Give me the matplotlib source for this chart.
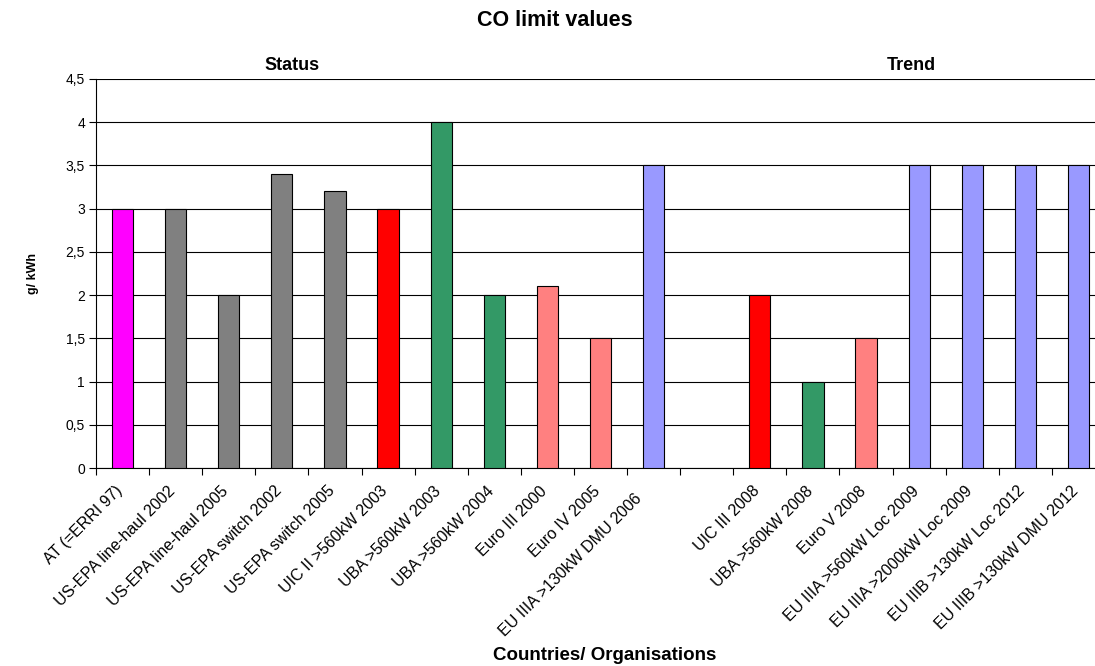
import numpy as np
import matplotlib
matplotlib.use("Agg")
import matplotlib.pyplot as plt
from matplotlib.ticker import MultipleLocator, FuncFormatter
import matplotlib.transforms as mtransforms

plt.rcParams['font.family'] = ['Liberation Sans', 'DejaVu Sans']

labels = [
    "AT (=ERRI 97)", "US-EPA line-haul 2002", "US-EPA line-haul 2005",
    "US-EPA switch 2002", "US-EPA switch 2005", "UIC II >560kW 2003",
    "UBA >560kW 2003", "UBA >560kW 2004", "Euro III 2000", "Euro IV 2005",
    "EU IIIA >130kW DMU 2006", "",
    "UIC III 2008", "UBA >560kW 2008", "Euro V 2008",
    "EU IIIA >560kW Loc 2009", "EU IIIA >2000kW Loc 2009",
    "EU IIIB >130kW Loc 2012", "EU IIIB >130kW DMU 2012",
]
co_values = [3, 3, 2, 3.4, 3.2, 3, 4, 2, 2.1, 1.5, 3.5, np.nan,
             2, 1, 1.5, 3.5, 3.5, 3.5, 3.5]
bar_colors = ["#FF00FF", "#808080", "#808080", "#808080", "#808080", "#FF0000",
              "#339966", "#339966", "#FF8080", "#FF8080", "#9999FF", "none",
              "#FF0000", "#339966", "#FF8080", "#9999FF", "#9999FF", "#9999FF",
              "#9999FF"]

fig = plt.figure(figsize=(10.95, 6.66), dpi=100)
ax = fig.add_axes([96 / 1095, 1 - 468 / 666, 1009 / 1095, 389 / 666])

x = np.arange(len(labels))
ax.bar(x, co_values, width=0.4, color=bar_colors, edgecolor="black",
       linewidth=0.8, zorder=3)

ax.set_xlim(-0.5, len(labels) - 0.5)
ax.set_ylim(0, 4.5)
ax.yaxis.set_major_locator(MultipleLocator(0.5))
ax.yaxis.set_major_formatter(FuncFormatter(
    lambda v, p: ("%g" % v).replace(".", ",")))
ax.grid(axis="y", color="black", linewidth=0.8, zorder=0)

# category labels at centres, tick marks on the boundaries
ax.set_xticks(x)
ax.set_xticklabels(labels, rotation=45, ha="right", va="top",
                   rotation_mode="anchor", fontsize=11.5)
ax.tick_params(axis="x", which="major", length=0, pad=11)
ax.set_xticks(np.arange(-0.5, len(labels), 1), minor=True)
ax.tick_params(axis="x", which="minor", length=5, width=0.8)
ax.tick_params(axis="y", length=5, width=0.8, labelsize=10, pad=3)
for i, lbl in enumerate(ax.get_xticklabels()):
    dx, dy = -8, 0
    if i == 10:  # long label sits a little lower
        dx, dy = -20, -8
    shift = mtransforms.ScaledTranslation(dx / 100, dy / 100,
                                          fig.dpi_scale_trans)
    lbl.set_transform(lbl.get_transform() + shift)

for side in ["top", "right"]:
    ax.spines[side].set_visible(False)
ax.spines["left"].set_linewidth(0.8)
ax.spines["bottom"].set_linewidth(0.8)

fig.text(555 / 1095, 1 - 21 / 666, "CO limit values", ha="center",
         va="center", fontsize=15.5, fontweight="bold")
fig.text(292 / 1095, 1 - 65 / 666, "Status", ha="center", va="center",
         fontsize=13, fontweight="bold")
fig.text(911 / 1095, 1 - 65 / 666, "Trend", ha="center", va="center",
         fontsize=13, fontweight="bold")
fig.text(605 / 1095, 1 - 655 / 666, "Countries/ Organisations", ha="center",
         va="center", fontsize=13.5, fontweight="bold")
fig.text(33 / 1095, 1 - 273 / 666, "g/ kWh", ha="center", va="center",
         rotation=90, fontsize=9, fontweight="bold")

fig.savefig("out.png", dpi=100, facecolor="white")
